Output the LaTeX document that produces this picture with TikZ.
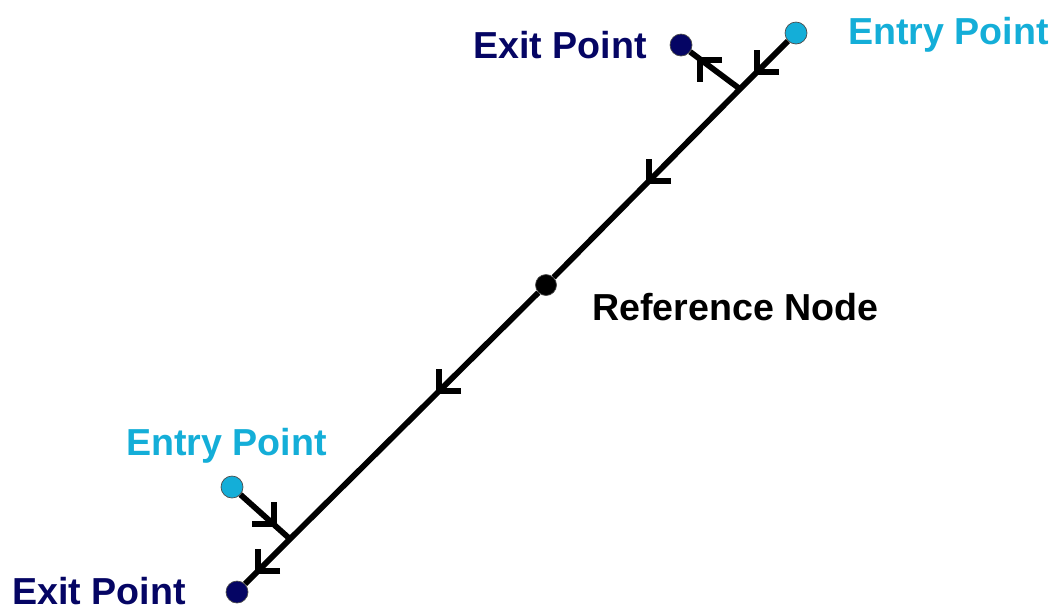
\documentclass[tikz,border=0pt]{standalone}
\usepackage{fontspec}
\setmainfont{Liberation Sans}
\definecolor{entrycol}{RGB}{20,174,216}
\definecolor{exitcol}{RGB}{5,5,100}
\begin{document}
\begin{tikzpicture}[x=0.02cm, y=-0.02cm, line join=miter, font=\fontsize{21.4}{25}\selectfont\bfseries]
	\useasboundingbox (0,0) rectangle (1054,610);
	\tikzset{pt/.style={circle, inner sep=0pt, minimum size=0.44cm, draw=black!70, line width=0.4pt},
		lbl/.style={inner sep=0pt},
		wire/.style={line width=0.115cm},
		barb/.pic={\draw[wire] (22,0) -- (0,0) -- (0,-22);}}
	% points
	\node[pt, fill=entrycol] (entryA) at (796,33) {};
	\node[pt, fill=exitcol] (exitA) at (681,45) {};
	\node[pt, fill=black, minimum size=0.42cm] (ref) at (546,285) {};
	\node[pt, fill=entrycol] (entryB) at (232,487) {};
	\node[pt, fill=exitcol] (exitB) at (237,592) {};
	\coordinate (jA) at (740,89);
	\coordinate (jB) at (290,539);
	% wires
	\draw[wire] (entryA) -- (jA) -- (ref) -- (jB) -- (exitB);
	\draw[wire] (jA) -- (exitA);
	\draw[wire] (entryB) -- (jB);
	\foreach \x/\y in {757/72, 649/181, 439/391, 258/571}{\pic at (\x,\y) {barb};}
	\pic[yscale=-1] at (700,60) {barb};
	\pic[xscale=-1] at (274,524) {barb};
	% labels
	\node[lbl, anchor=base east, text=exitcol] (exitAtxt) at (647,58) {Exit Point};
	\node[lbl, anchor=base west, text=entrycol] (entryAtxt) at (848,44) {Entry Point};
	\node[lbl, anchor=base west] (reftxt) at (592,320) {Reference Node};
	\node[lbl, anchor=base west, text=entrycol] (entryBtxt) at (126,455) {Entry Point};
	\node[lbl, anchor=base west, text=exitcol] (exitBtxt) at (12,604) {Exit Point};
\end{tikzpicture}
\end{document}
